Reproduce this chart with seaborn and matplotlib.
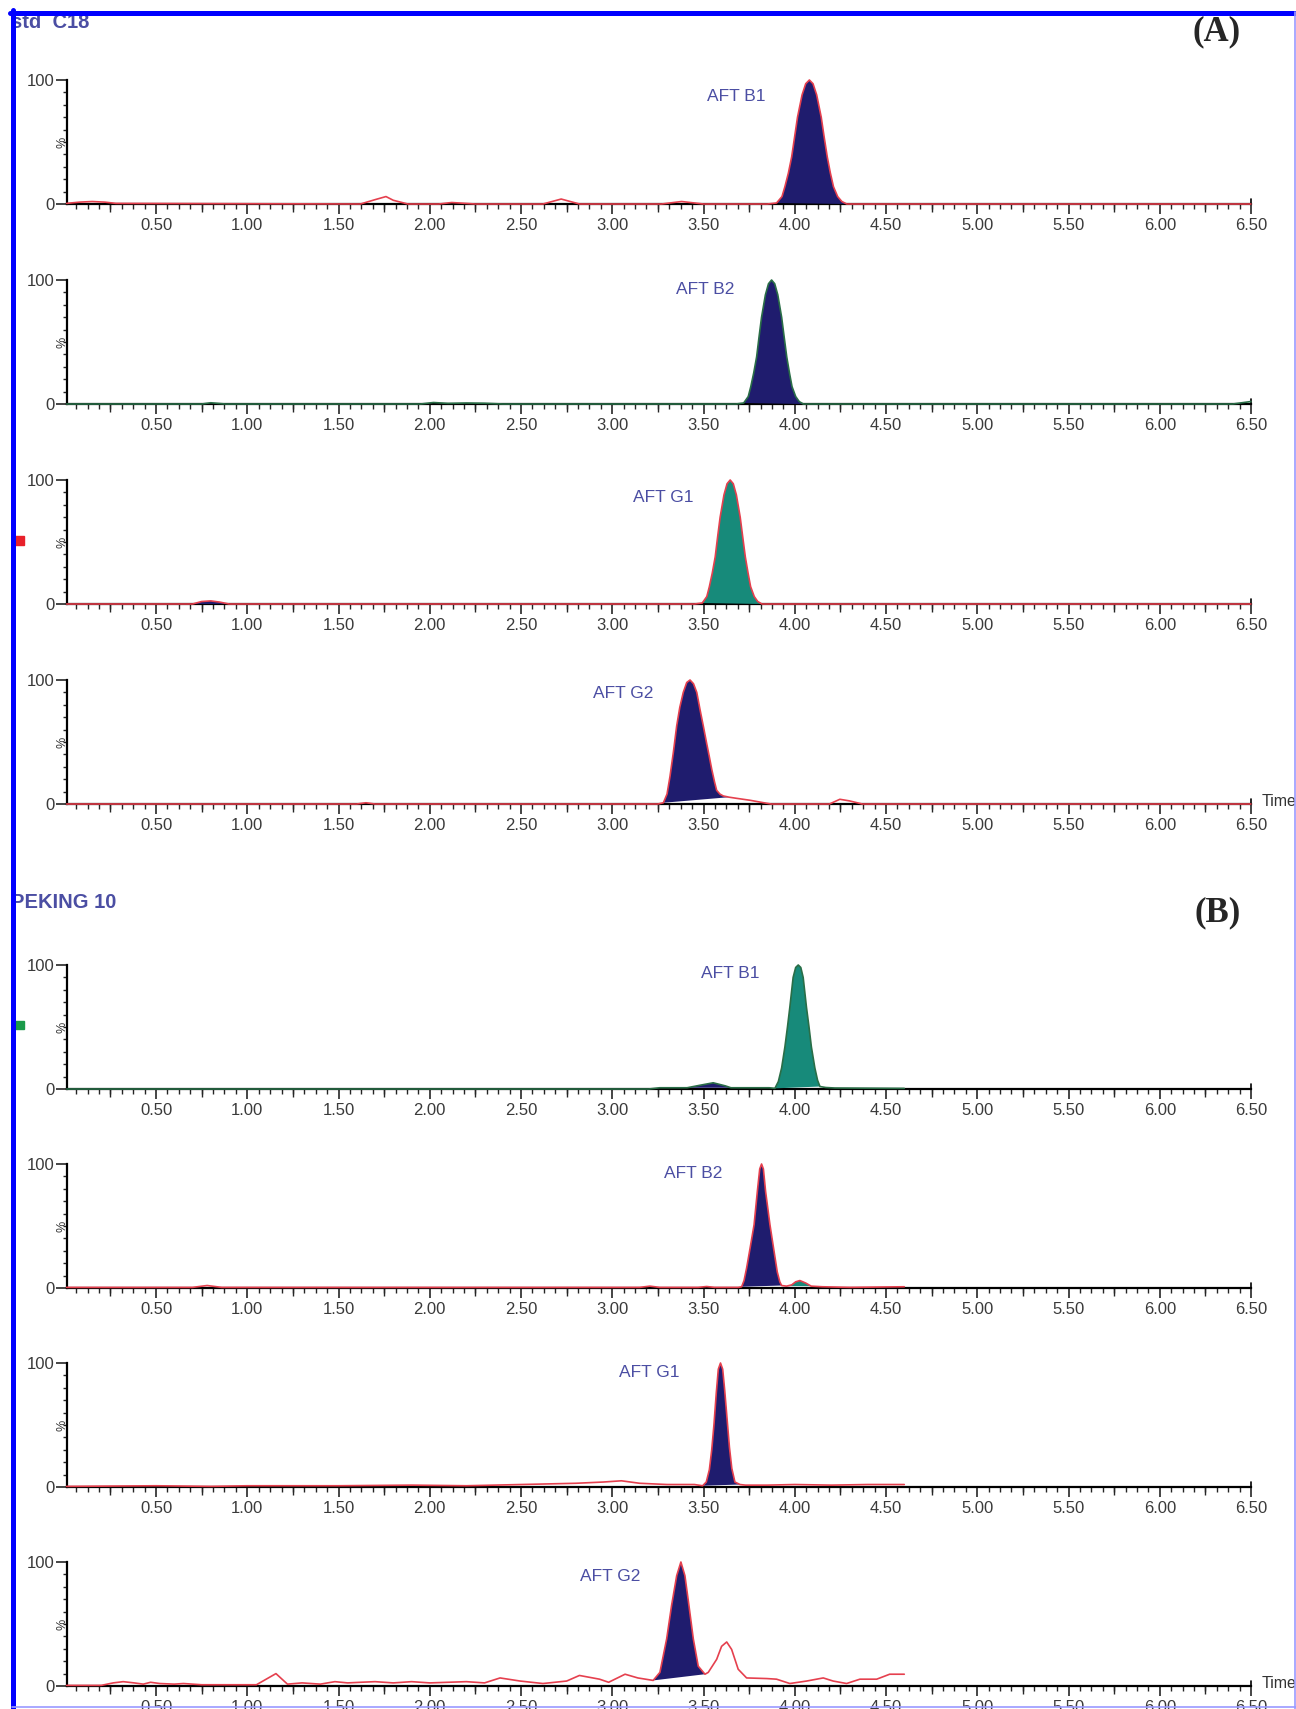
import numpy as np
import matplotlib
matplotlib.use("Agg")
import matplotlib.pyplot as plt
import seaborn as sns
from matplotlib.ticker import MultipleLocator, FixedLocator
from matplotlib.lines import Line2D
from matplotlib.patches import Rectangle

# chromatogram traces, intensity in % of the largest peak
a1_time = [0.01, 0.08, 0.15, 0.22, 0.28, 1.62, 1.70, 1.76, 1.80, 1.88, 2.05, 2.12, 2.25, 2.62, 2.72, 2.82,
           3.27, 3.38, 3.50, 3.85, 3.90, 3.93, 3.946, 3.965, 3.983, 4.00, 4.015, 4.04, 4.06, 4.08, 4.10, 4.12,
           4.145, 4.16, 4.178, 4.195, 4.212, 4.235, 4.258, 4.285, 6.50]
a1_signal = [0.5, 1.5, 2, 1.5, 0.5, 0, 3.5, 6, 3, 0, 0, 1.2, 0, 0, 4, 0,
             0, 2, 0, 0, 0.8, 6, 14, 25, 38, 55, 70, 88, 97, 100, 97, 88,
             70, 55, 38, 25, 14, 6, 2, 0, 0]

a2_time = [0.01, 0.75, 0.80, 0.88, 1.95, 2.02, 2.10, 2.20, 2.30, 2.40,
           3.678, 3.720, 3.745, 3.759, 3.775, 3.791, 3.805, 3.818, 3.839, 3.856, 3.873,
           3.890, 3.907, 3.928, 3.941, 3.956, 3.971, 3.985, 4.005, 4.024, 4.047, 6.40, 6.50]
a2_signal = [0, 0, 1, 0, 0, 1.2, 0.5, 0.8, 0.6, 0,
             0, 0.8, 6, 14, 25, 38, 55, 70, 88, 97, 100,
             97, 88, 70, 55, 38, 25, 14, 6, 2, 0, 0, 2]

a3_time = [0.01, 0.70, 0.75, 0.80, 0.85, 0.90,
           3.451, 3.493, 3.518, 3.532, 3.548, 3.564, 3.578, 3.591, 3.612, 3.629, 3.646,
           3.663, 3.680, 3.701, 3.714, 3.729, 3.744, 3.758, 3.778, 3.797, 3.820, 6.50]
a3_signal = [0, 0, 2, 2.5, 1.5, 0,
             0, 0.8, 6, 14, 25, 38, 55, 70, 88, 97, 100,
             97, 88, 70, 55, 38, 25, 14, 6, 2, 0, 0]

a4_time = [0.01, 1.60, 1.65, 1.70,
           3.25, 3.28, 3.30, 3.316, 3.335, 3.353, 3.37, 3.389, 3.408, 3.426,
           3.445, 3.463, 3.481, 3.50, 3.517, 3.532, 3.545, 3.56, 3.572, 3.59, 3.608, 3.64, 3.68, 3.755, 3.83, 3.87,
           4.19, 4.247, 4.30, 4.37, 6.50]
a4_signal = [0, 0, 1, 0,
             0, 1, 8, 22, 42, 63, 78, 90, 98, 100,
             97, 90, 76, 62, 49, 38, 28, 18, 11, 8, 6.5, 5.5, 4.6, 3, 1, 0,
             0, 3.8, 2.5, 0, 0]

b1_time = [0.01, 3.20, 3.26, 3.41, 3.48, 3.553, 3.62, 3.65, 3.86,
           3.891, 3.91, 3.928, 3.946, 3.96, 3.973, 3.991, 4.005, 4.019,
           4.033, 4.046, 4.064, 4.078, 4.091, 4.11, 4.125, 4.138, 4.17, 4.22, 4.60]
b1_signal = [0, 0, 1, 1, 3, 5, 2.5, 1, 1,
             0.5, 6, 17, 34, 50, 66, 90, 98, 100,
             98, 90, 66, 50, 34, 17, 7, 2, 1.2, 0.8, 0.5]

b2_time = [0.01, 0.70, 0.78, 0.86, 3.15, 3.206, 3.26, 3.47, 3.517, 3.56,
           3.69, 3.709, 3.722, 3.736, 3.755, 3.777, 3.795, 3.808, 3.818,
           3.828, 3.84, 3.864, 3.886, 3.904, 3.918, 3.928,
           3.955, 3.983, 4.005, 4.028, 4.06, 4.09, 4.15, 4.30, 4.60]
b2_signal = [0.5, 0.5, 2, 0.5, 0.5, 1.5, 0.5, 0.5, 1.2, 0.5,
             0.5, 1, 6, 16, 32, 51, 78, 96, 100,
             96, 78, 51, 30, 13, 5, 2,
             1.5, 2.5, 5, 6, 4, 1.5, 1, 0.5, 1]

b3_time = [0.01, 0.50, 0.80, 1.00, 1.50, 1.90, 2.20, 2.50, 2.65, 2.80, 2.95, 3.05, 3.15, 3.30, 3.45,
           3.495, 3.515, 3.532, 3.545, 3.557, 3.570, 3.581, 3.593,
           3.605, 3.616, 3.629, 3.642, 3.655, 3.672, 3.70,
           3.73, 3.85, 4.00, 4.20, 4.40, 4.60]
b3_signal = [0.5, 1, 0.5, 1, 1, 1.5, 1, 2, 2.5, 3, 4, 5, 3, 2, 2,
             1, 4, 14, 30, 50, 76, 95, 100,
             95, 78, 55, 32, 15, 4, 2,
             1.5, 1.5, 2, 1.5, 2, 2]

b4_time = [0.01, 0.20, 0.265, 0.32, 0.38, 0.43, 0.47, 0.52, 0.60, 0.65,
           0.75, 1.05, 1.157, 1.22, 1.30, 1.40, 1.48, 1.55, 1.62, 1.70,
           1.80, 1.90, 2.00, 2.10, 2.20, 2.30, 2.385, 2.495, 2.62, 2.75,
           2.82, 2.93, 2.98, 3.07, 3.14, 3.224, 3.261, 3.298, 3.325, 3.353,
           3.376, 3.398, 3.42, 3.444, 3.471, 3.508, 3.526, 3.572, 3.599, 3.627,
           3.654, 3.69, 3.736, 3.846, 3.90, 3.973, 4.065, 4.156, 4.21, 4.284,
           4.357, 4.449, 4.52, 4.60]
b4_signal = [0.5, 0.5, 2.5, 3.5, 2.5, 1.5, 3, 2, 1.5, 2,
             1, 1, 10, 1.5, 2.5, 1.5, 3.5, 2.5, 3, 3.5,
             2.5, 3.5, 2.5, 3, 3.5, 2.5, 6.5, 4, 2, 4,
             8.5, 5.5, 3, 9.5, 6.5, 4.5, 11, 38, 65, 89,
             100, 89, 65, 38, 16, 9.5, 11, 21.5, 32, 35.5,
             29.5, 13.5, 6.5, 6, 5.5, 2, 4, 6.5, 4, 2,
             5.5, 5.5, 9.5, 9.5]

peak_names = ["AFT B1", "AFT B2", "AFT G1", "AFT G2"]
label_time = [3.68, 3.51, 3.28, 3.06, 3.645, 3.444, 3.205, 2.987]
label_level = [86.5, 92, 85.5, 89, 93, 92.5, 92.5, 88]
x_tick_labels = ["0.50", "1.00", "1.50", "2.00", "2.50", "3.00", "3.50",
                 "4.00", "4.50", "5.00", "5.50", "6.00", "6.50"]

RED = "#e5404e"
GREEN_LINE = "#2a6e47"
NAVY = "#1f1c6e"
TEAL = "#178a7a"
LABEL = "#4b4ea3"

# (time, signal, line colour, integrated areas (start, end, fill colour))
panels = [
    (a1_time, a1_signal, RED, [(3.90, 4.285, NAVY)]),
    (a2_time, a2_signal, GREEN_LINE, [(3.72, 4.047, NAVY)]),
    (a3_time, a3_signal, RED, [(3.493, 3.82, TEAL), (0.70, 0.90, NAVY)]),
    (a4_time, a4_signal, RED, [(3.28, 3.64, NAVY)]),
    (b1_time, b1_signal, GREEN_LINE, [(3.891, 4.138, TEAL), (3.41, 3.65, NAVY)]),
    (b2_time, b2_signal, RED, [(3.709, 3.928, NAVY), (3.955, 4.09, TEAL)]),
    (b3_time, b3_signal, RED, [(3.495, 3.70, NAVY)]),
    (b4_time, b4_signal, RED, [(3.224, 3.508, NAVY)]),
]

sns.set_style("ticks")
plt.rcParams['font.family'] = ['Liberation Sans', 'DejaVu Sans']

W, H = 1296, 1709
fig = plt.figure(figsize=(W / 100, H / 100), dpi=100)

zero_rows = [204, 404, 604, 804, 1089, 1288, 1487, 1686]
panel_h = 124
ax_left, ax_right = 67, 1251

for i, (t, s, line_col, fills) in enumerate(panels):
    y0 = zero_rows[i]
    ax = fig.add_axes([ax_left / W, 1 - y0 / H, (ax_right - ax_left) / W, panel_h / H])
    ax.patch.set_alpha(0)
    t = np.array(t)
    s = np.array(s)
    for lo, hi, col in fills:
        m = (t >= lo) & (t <= hi)
        ax.fill(t[m], s[m], color=col, lw=0, zorder=3)
    sns.lineplot(x=t, y=s, ax=ax, color=line_col, lw=1.2, estimator=None, sort=False,
                 zorder=4, clip_on=False)

    ax.set_xlim(0.012, 6.5)
    ax.set_ylim(0, 100)
    sns.despine(ax=ax)
    for sp in ("left", "bottom"):
        ax.spines[sp].set_linewidth(1.6)
        ax.spines[sp].set_color("black")
    ax.set_xlabel("")
    ax.set_ylabel("")

    ax.xaxis.set_major_locator(FixedLocator(np.arange(0.5, 6.51, 0.5)))
    ax.set_xticklabels(x_tick_labels)
    ax.xaxis.set_minor_locator(MultipleLocator(0.0625))
    ax.tick_params(axis="x", which="major", length=7, width=1.2, direction="out",
                   labelsize=12, labelcolor="#3a3a3a", pad=3)
    ax.tick_params(axis="x", which="minor", length=3.5, width=1.0, direction="out")

    # medium ticks halfway between labelled ones
    sec = ax.secondary_xaxis("bottom")
    sec.set_xticks(np.arange(0.25, 6.5, 0.5))
    sec.tick_params(axis="x", length=5.5, width=1.0, labelbottom=False)
    sec.spines["bottom"].set_visible(False)

    ax.set_yticks([0, 100])
    ax.set_yticklabels(["0", "100"])
    ax.yaxis.set_minor_locator(MultipleLocator(10))
    ax.tick_params(axis="y", which="major", length=8, width=1.2, direction="out",
                   labelsize=12, labelcolor="#3a3a3a", pad=1)
    ax.tick_params(axis="y", which="minor", length=3, width=1.0, direction="out")

    # little upward tick closing the time axis
    ax.plot([1, 1], [0, 0.04], transform=ax.transAxes, color="black", lw=1.2, clip_on=False)

    ax.text(label_time[i], label_level[i], peak_names[i % 4], color=LABEL, fontsize=12.5,
            ha="center", va="center")

    fig.text(62 / W, 1 - (y0 - 62) / H, "%", rotation=90, fontsize=9, color="#333333",
             ha="center", va="center")
    if i in (3, 7):
        fig.text(1262 / W, 1 - (y0 - 2) / H, "Time", fontsize=11.5, color="#333333",
                 ha="left", va="center")

fig.text(11 / W, 1 - 22 / H, "std  C18", fontsize=14.5, fontweight="bold", color=LABEL,
         ha="left", va="center")
fig.text(11 / W, 1 - 903 / H, "PEKING 10", fontsize=14.5, fontweight="bold", color=LABEL,
         ha="left", va="center")
fig.text(1217 / W, 1 - 32 / H, "(A)", family="Liberation Serif", fontweight="bold",
         fontsize=25, ha="center", va="center")
fig.text(1218 / W, 1 - 913 / H, "(B)", family="Liberation Serif", fontweight="bold",
         fontsize=25, ha="center", va="center")

# channel markers on the left edge
fig.add_artist(Rectangle((15 / W, 1 - 545 / H), 9 / W, 9 / H, color="#e8202a",
                         transform=fig.transFigure))
fig.add_artist(Rectangle((15 / W, 1 - 1029 / H), 9 / W, 8 / H, color="#1a9a4a",
                         transform=fig.transFigure))

# window frame
fig.add_artist(Line2D([12.5 / W, 12.5 / W], [0, 1 - 10 / H], color="#0000ff", lw=3.6, zorder=10))
fig.add_artist(Line2D([10 / W, 1], [1 - 12.5 / H, 1 - 12.5 / H], color="#0000ff", lw=3.6, zorder=10))
fig.add_artist(Line2D([1294.5 / W, 1294.5 / W], [0, 1 - 12 / H], color="#9a9aff", lw=1.2, zorder=10))
fig.add_artist(Line2D([12 / W, 1], [1 - 1706.5 / H, 1 - 1706.5 / H], color="#9a9aff", lw=1.2, zorder=10))

fig.savefig("out.png", dpi=100)
plt.close()
